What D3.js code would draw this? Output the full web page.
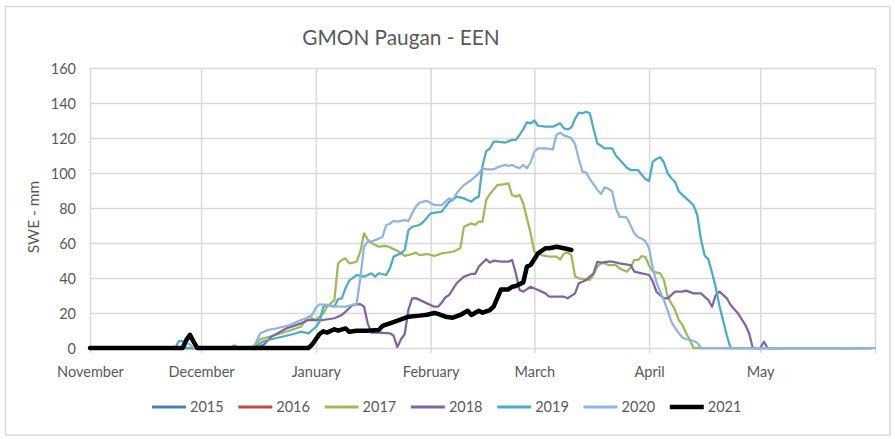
<!DOCTYPE html>
<html><head><meta charset="utf-8">
<script src="https://cdn.jsdelivr.net/npm/d3@7"></script>
<style>body{margin:0;background:#fff} text{font-family:Lato,"Open Sans",sans-serif}</style>
</head><body><svg id="c" width="895" height="439"></svg>
<script>
const title = "GMON Paugan - EEN";
const yTitle = "SWE - mm";
const monthLabels = ["November","December","January","February","March","April","May"];
const yTicks = [0,20,40,60,80,100,120,140,160];
const seriesNames = ["2015","2016","2017","2018","2019","2020","2021"];
const seriesColors = ["#4a7ebb","#be4b48","#9bbb59","#8064a2","#4bacc6","#8db4e2","#000000"];

const s2015 = [];
const s2016 = [];
const s2017 = [["11-01",0],["12-15",0],["12-17",5],["12-22",8],["12-25",10],["12-28",12.2],["12-30",18],["12-31",17],["01-01",16],["01-03",19.8],["01-04",23.6],["01-06",27.4],["01-07",48.4],["01-08",50.3],["01-09",51.2],["01-10",48.4],["01-11",48.8],["01-12",49.3],["01-13",55],["01-14",65.5],["01-15",62],["01-16",60],["01-18",57.9],["01-20",58.3],["01-21",57.5],["01-23",55.6],["01-25",52.6],["01-27",53.7],["01-28",54.5],["01-29",53.1],["01-31",53.7],["02-02",52.6],["02-04",54.1],["02-07",55],["02-09",57],["02-10",69.3],["02-12",71.2],["02-13",70.3],["02-14",72.2],["02-15",72.2],["02-16",84.6],["02-17",88],["02-18",90.5],["02-19",93.1],["02-21",93.7],["02-22",94.1],["02-23",87.4],["02-24",86.5],["02-25",87.4],["02-26",82.7],["02-28",65.5],["03-01",55],["03-03",53.1],["03-05",52.2],["03-07",52.2],["03-08",50.5],["03-09",54],["03-10",54.5],["03-11",53],["03-12",40.8],["03-13",39.8],["03-16",38.9],["03-17",42],["03-18",46.5],["03-19",48.4],["03-20",48.4],["03-21",47.4],["03-23",47.4],["03-24",45.5],["03-26",43.6],["03-27",46],["03-28",50.3],["03-29",50.3],["03-30",52.5],["03-31",52],["04-01",47],["04-02",43.6],["04-04",42.7],["04-05",38.9],["04-06",29.3],["04-08",21.7],["04-09",16],["04-10",13.1],["04-11",8.4],["04-12",4.6],["04-13",0],["05-31",0]];
const s2018 = [["11-01",0],["12-16",0],["12-18",2],["12-20",6.5],["12-24",11.2],["12-28",14.1],["12-30",16],["01-03",16],["01-06",17],["01-08",18.9],["01-09",20.7],["01-10",22.7],["01-11",24.6],["01-13",25.1],["01-14",23.6],["01-15",14.1],["01-16",8.8],["01-18",8.8],["01-21",8.4],["01-22",7],["01-23",0.5],["01-24",5],["01-25",8],["01-26",22],["01-27",28.4],["01-28",28.5],["01-30",26.5],["01-31",25.5],["02-02",23.6],["02-03",23.6],["02-04",26],["02-05",29],["02-06",30.3],["02-08",37],["02-10",40.8],["02-12",42.3],["02-13",42.3],["02-14",46.5],["02-16",50.7],["02-17",48.8],["02-18",49.9],["02-20",49.3],["02-22",49.3],["02-23",50.3],["02-24",42.7],["02-25",33.1],["02-26",32.2],["02-28",35],["03-02",33.1],["03-04",31.2],["03-05",29.3],["03-09",29.3],["03-10",28.4],["03-12",31.2],["03-13",37],["03-14",37.9],["03-15",38.9],["03-17",42.7],["03-18",49.3],["03-19",48.8],["03-21",49.3],["03-22",49.3],["03-24",48.4],["03-27",47.4],["03-28",43.6],["03-30",42.7],["04-01",41.7],["04-02",37.9],["04-03",32],["04-05",28.4],["04-06",28.4],["04-08",32.2],["04-10",32.2],["04-11",32.8],["04-13",31.2],["04-15",31.2],["04-17",27.4],["04-18",23.6],["04-19",30.3],["04-20",32.2],["04-22",28.4],["04-23",24.6],["04-25",19.8],["04-27",13.1],["04-28",8.4],["04-29",0],["05-01",0],["05-02",3.6],["05-03",0],["05-31",0]];
const s2019 = [["11-01",0],["11-24",0],["11-25",4],["11-26",4],["11-27",0],["12-09",0],["12-10",1.5],["12-11",0],["12-15",0],["12-18",4],["12-22",6],["12-26",8],["12-28",9.3],["12-30",8.4],["01-01",12],["01-02",15],["01-03",23.6],["01-04",24.6],["01-06",23.6],["01-07",28],["01-08",28.4],["01-09",34.1],["01-10",38.5],["01-12",41.7],["01-14",40.8],["01-15",41.7],["01-16",42.7],["01-17",40.8],["01-18",42.7],["01-20",41.7],["01-21",45.5],["01-22",52.2],["01-24",54.1],["01-25",56],["01-26",67.4],["01-27",69.3],["01-29",70.3],["01-30",72],["01-31",74.5],["02-01",76.9],["02-04",77.9],["02-05",80.8],["02-06",83.6],["02-07",84.6],["02-08",86.5],["02-10",85.5],["02-12",83.6],["02-13",85.5],["02-14",86.5],["02-15",104],["02-16",112.5],["02-17",114],["02-18",117.9],["02-19",117.9],["02-21",117.3],["02-23",118.9],["02-24",118.9],["02-25",121.7],["02-26",125],["02-27",129],["02-28",128.4],["03-01",130],["03-02",127],["03-04",126.5],["03-06",126.5],["03-08",128.4],["03-09",125.5],["03-10",124.9],["03-11",126],["03-12",131],["03-13",134.5],["03-14",134.1],["03-15",135],["03-16",134.1],["03-17",125],["03-18",117],["03-20",114.1],["03-22",114.1],["03-23",110],["03-26",103],["03-27",101.7],["03-29",101.7],["03-30",99],["03-31",96.5],["04-01",95.5],["04-02",106.5],["04-03",108],["04-04",109],["04-05",106],["04-06",99.8],["04-07",97],["04-08",95],["04-09",89.5],["04-11",85.5],["04-12",83.6],["04-13",81.5],["04-14",76],["04-15",62],["04-16",52.8],["04-17",50.5],["04-18",43],["04-19",34.5],["04-20",24],["04-21",15.5],["04-22",7],["04-23",0],["05-31",0]];
const s2020 = [["11-01",0],["11-26",0],["11-27",3],["11-28",2],["11-29",0],["12-15",0],["12-16",4],["12-17",8.4],["12-18",9.3],["12-19",10.3],["12-21",11],["12-25",13.1],["12-28",16],["12-30",17.5],["12-31",19],["01-01",23],["01-02",25],["01-04",24.6],["01-07",23.6],["01-09",23.6],["01-11",24.6],["01-12",25],["01-13",40],["01-14",58],["01-15",60.8],["01-16",60.8],["01-18",62.5],["01-19",63.6],["01-20",70.3],["01-21",71],["01-22",72.6],["01-23",72.2],["01-25",73.1],["01-26",72.5],["01-27",77],["01-28",80.8],["01-29",83],["01-30",83.6],["01-31",84.1],["02-01",82.7],["02-02",81.7],["02-04",81.7],["02-05",83.6],["02-06",85.5],["02-07",84.6],["02-08",88.4],["02-09",91],["02-10",93.1],["02-12",96],["02-13",97.9],["02-14",99.8],["02-15",102.7],["02-16",102.1],["02-18",102.1],["02-19",103.2],["02-21",104.6],["02-22",104],["02-23",104.6],["02-24",103.5],["02-25",102.7],["02-26",104.6],["02-27",102.7],["02-28",106],["03-01",112.2],["03-02",114.1],["03-04",114.1],["03-06",113.5],["03-07",122],["03-08",123],["03-09",121.5],["03-10",120.8],["03-11",119.8],["03-12",116.5],["03-13",108],["03-14",100.8],["03-15",100.2],["03-16",96.5],["03-17",93.5],["03-18",90.5],["03-19",88],["03-20",91.8],["03-21",91],["03-22",89.5],["03-23",80],["03-24",75],["03-25",75],["03-26",74.5],["03-27",70],["03-28",65.5],["03-29",63.3],["03-30",62.5],["03-31",61],["04-01",57],["04-02",45.5],["04-03",37.5],["04-04",32],["04-05",27.2],["04-06",21.5],["04-07",15],["04-08",11.5],["04-09",8.5],["04-10",6],["04-11",5],["04-12",4.6],["04-13",4],["04-14",3],["04-15",0],["06-01",0]];
const s2021 = [["11-01",0],["11-26",0],["11-27",4.5],["11-28",7.5],["11-29",3.5],["11-30",0],["12-30",0],["12-31",2],["01-01",5],["01-02",8],["01-03",9.5],["01-04",8.8],["01-06",10.7],["01-07",9.9],["01-09",11.2],["01-10",9.3],["01-12",9.9],["01-15",9.9],["01-18",10.3],["01-19",12.6],["01-21",14.1],["01-24",16.4],["01-26",17.9],["01-29",18.5],["01-31",19],["02-02",20],["02-03",19.5],["02-05",17.9],["02-07",17.3],["02-09",18.9],["02-11",21.3],["02-12",18.9],["02-14",21.3],["02-15",20.2],["02-17",21.7],["02-18",23.6],["02-20",33.5],["02-22",33.5],["02-23",35],["02-24",35.4],["02-26",37.5],["02-27",46.5],["02-28",47.4],["03-02",54.1],["03-04",57],["03-05",57],["03-07",57.9],["03-09",57],["03-11",56]];
const seriesData = [s2015,s2016,s2017,s2018,s2019,s2020,s2021];

function toDate(md){
  const [m,d] = md.split("-").map(Number);
  return new Date(m >= 11 ? 2020 : 2021, m-1, d);
}

const svg = d3.select("#c");
const L=90, R=875, T=68, B=348;
const x = d3.scaleTime().domain([new Date(2020,10,1), new Date(2021,5,1)]).range([L,R]);
const y = d3.scaleLinear().domain([0,160]).range([B,T]);
const grey = "#595959", gridC = "#d9d9d9";

svg.append("rect").attr("x",5.5).attr("y",6.5).attr("width",884.5).attr("height",428.5)
  .attr("fill","#fff").attr("stroke",gridC).attr("stroke-width",1.5);

svg.append("text").attr("x",401).attr("y",45).attr("text-anchor","middle")
  .attr("font-size",20.8).attr("fill",grey).text(title);

const yAxis = d3.axisLeft(y).tickValues(yTicks).tickSize(-(R-L)).tickFormat(d3.format("d"));
const yg = svg.append("g").attr("transform",`translate(${L},0)`).call(yAxis);
yg.select(".domain").remove();
yg.selectAll(".tick line").attr("stroke",gridC).attr("stroke-width",1.5);
yg.selectAll(".tick text").attr("x",-14).attr("dy","0.4em").attr("font-size",14.5).attr("fill",grey)
  .style("font-family","Lato");

const monthTicks = d3.timeMonth.range(new Date(2020,10,1), new Date(2021,5,2));
const xAxis = d3.axisBottom(x).tickValues(monthTicks).tickSize(-(B-T)).tickFormat((d,i)=> monthLabels[i] || "");
const xg = svg.append("g").attr("transform",`translate(0,${B})`).call(xAxis);
xg.select(".domain").remove();
xg.selectAll(".tick line").attr("stroke",gridC).attr("stroke-width",1.5).attr("y2",-(B-T)).attr("y1",5);
xg.selectAll(".tick text").attr("y",29).attr("dy",0).attr("font-size",14.5).attr("fill",grey)
  .style("font-family","Lato");

svg.append("text").attr("transform","translate(39,217) rotate(-90)").attr("text-anchor","middle")
  .attr("font-size",15.5).attr("fill",grey).text(yTitle);

const line = d3.line().x(d=>x(toDate(d[0]))).y(d=>y(d[1]));
seriesData.forEach((s,i)=>{
  if(!s.length) return;
  svg.append("path").datum(s).attr("d",line).attr("fill","none")
    .attr("stroke",seriesColors[i]).attr("stroke-width", i===6 ? 4.5 : 2.25)
    .attr("stroke-linejoin","round").attr("stroke-linecap","round");
});

const lg = svg.append("g");
seriesNames.forEach((n,i)=>{
  const x0 = 152 + i*86.3;
  lg.append("line").attr("x1",x0).attr("x2",x0+34).attr("y1",407).attr("y2",407)
    .attr("stroke",seriesColors[i]).attr("stroke-width", i===6 ? 4.5 : 3);
  lg.append("text").attr("x",x0+38).attr("y",412).attr("font-size",14.5).attr("fill",grey).text(n);
});
</script></body></html>
